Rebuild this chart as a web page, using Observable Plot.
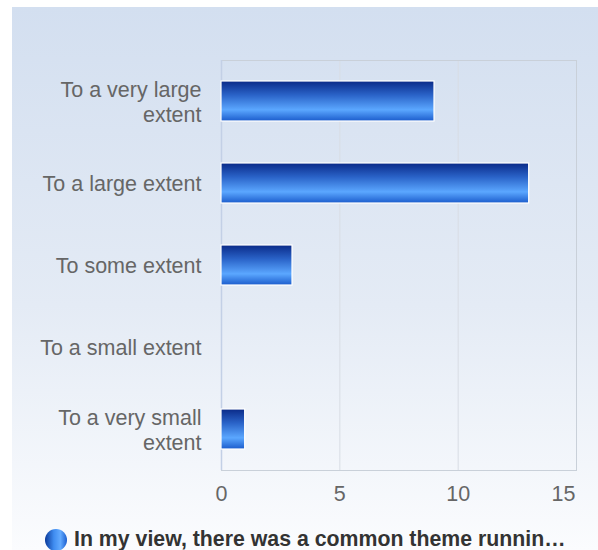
<!DOCTYPE html>
<html>
<head>
<meta charset="utf-8">
<script src="https://cdn.jsdelivr.net/npm/d3@7"></script>
<script src="https://cdn.jsdelivr.net/npm/@observablehq/plot@0.6"></script>
<style>
  html, body { margin: 0; padding: 0; background: #fff; font-family: "Liberation Sans", Arial, sans-serif; }
  #panel {
    position: absolute; left: 12px; top: 7px; width: 586px; height: 543px;
    background: linear-gradient(to bottom, #d3dff0 0%, #e4ebf5 55%, #fbfcfe 100%);
  }
  #legend {
    position: absolute; left: 45px; top: 528px; display: flex; align-items: center;
    font-weight: bold; font-size: 21.3px; color: #333; white-space: nowrap; line-height: 23px;
  }
  #legend .dot {
    width: 22px; height: 22px; border-radius: 50%; margin-right: 7px; flex: none;
    background: linear-gradient(to right, #0b3a9a 0%, #3f8cf0 40%, #62aaff 70%, #1c5fd0 100%);
  }
</style>
</head>
<body>
<div id="panel"><div id="chart"></div></div>
<div id="legend"><span class="dot"></span><span>In my view, there was a common theme runnin…</span></div>
<script>
const categories = [
  "To a very large extent",
  "To a large extent",
  "To some extent",
  "To a small extent",
  "To a very small extent"
];
const labelLines = [
  "To a very large\nextent",
  "To a large extent",
  "To some extent",
  "To a small extent",
  "To a very small\nextent"
];
const values = [9, 13, 3, 0, 1];
const xTicks = [0, 5, 10, 15];

const data = categories.map((c, i) => ({category: c, value: values[i]}));
const labelOf = new Map(categories.map((c, i) => [c, labelLines[i]]));
const lastTick = xTicks[xTicks.length - 1];

const defs = () => {
  const d = d3.create("svg:defs");
  const g = d.append("linearGradient").attr("id", "barGrad")
    .attr("x1", 0).attr("y1", 0).attr("x2", 0).attr("y2", 1);
  g.append("stop").attr("offset", "0%").attr("stop-color", "#0a2a88");
  g.append("stop").attr("offset", "35%").attr("stop-color", "#2a63c8");
  g.append("stop").attr("offset", "72%").attr("stop-color", "#5ba7ff");
  g.append("stop").attr("offset", "100%").attr("stop-color", "#1b5ccc");
  return d.node();
};

const chart = Plot.plot({
  width: 586,
  height: 500,
  marginLeft: 209,
  marginRight: 22,
  marginTop: 53,
  marginBottom: 37,
  style: {fontFamily: "'Liberation Sans', Arial, sans-serif", fontSize: "21.5px", color: "#666", background: "transparent", overflow: "visible"},
  x: {domain: [0, 15], ticks: xTicks},
  y: {domain: categories, paddingInner: 0.51, paddingOuter: 0.255},
  marks: [
    defs,
    Plot.gridX(xTicks, {stroke: "#d8dde4", strokeOpacity: 1}),
    Plot.frame({stroke: "#c9d0d9", strokeOpacity: 1}),
    Plot.ruleX([0], {stroke: "#c3d0e6", strokeWidth: 1.5}),
    Plot.barX(data.filter(d => d.value > 0), {
      x: "value", y: "category", fill: "url(#barGrad)", stroke: "#ffffff", strokeWidth: 1.2
    }),
    Plot.axisX(xTicks.slice(0, -1), {tickSize: 0, tickPadding: 15, label: null, fill: "#666", fontSize: 21.5}),
    Plot.axisX([lastTick], {tickSize: 0, tickPadding: 15, label: null, fill: "#666", fontSize: 21.5, textAnchor: "end", dx: -1}),
    Plot.axisY({tickSize: 0, tickPadding: 20, label: null, fill: "#666", fontSize: 21.5,
      lineHeight: 1.16, tickFormat: d => labelOf.get(d)})
  ]
});
document.getElementById("chart").appendChild(chart);
</script>
</body>
</html>
